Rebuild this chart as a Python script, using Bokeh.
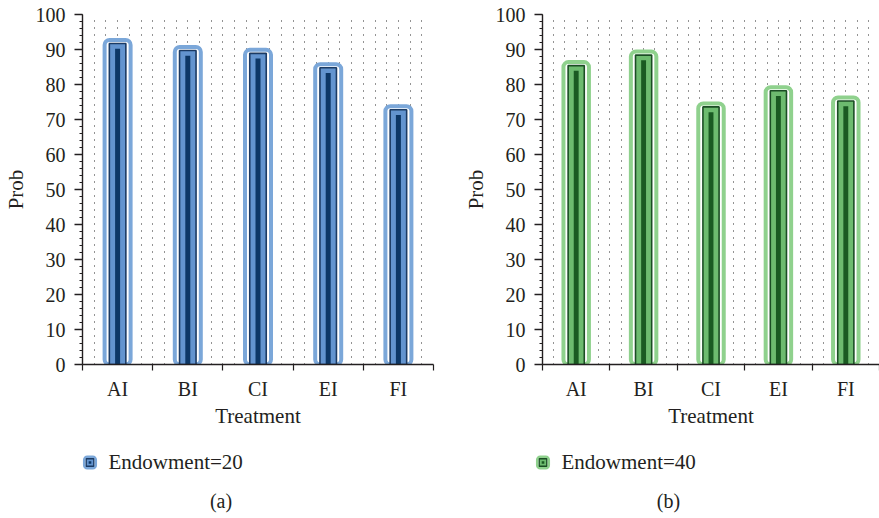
from bokeh.plotting import figure
from bokeh.models import Range1d, FixedTicker, SingleIntervalTicker, ColumnDataSource
from bokeh.layouts import column, row
from bokeh.embed import file_html
from bokeh.resources import INLINE
from bokeh.core.properties import value

# ---- data ----
categories = ["AI", "BI", "CI", "EI", "FI"]
prob_endow20 = [91.7, 89.7, 88.9, 84.8, 72.8]
prob_endow40 = [85.4, 88.4, 73.6, 78.2, 75.3]
legend_labels = ["Endowment=20", "Endowment=40"]
panel_tags = ["(a)", "(b)"]
x_title = "Treatment"
y_title = "Prob"

FONT = "Liberation Serif"
INK = "#231f20"

BLUE = dict(glow="#7ba7d9", edge="#1b3a63", fill="#6394cf", core="#0d3766")
GREEN = dict(glow="#8fd18d", edge="#1b4d24", fill="#6dbb6f", core="#1a5a22")


def make_panel(vals, col, width, mb_left, mb_right):
    p = figure(width=width, height=430,
               x_range=Range1d(0, len(categories)), y_range=Range1d(0, 100),
               output_backend="svg", toolbar_location=None,
               min_border_left=mb_left, min_border_right=mb_right,
               min_border_top=14, min_border_bottom=66)
    p.outline_line_color = None
    frame_w = width - mb_left - mb_right
    band_px = frame_w / len(categories)

    # dotted background grid
    p.ygrid.visible = False
    p.xgrid.ticker = FixedTicker(ticks=[k / 6 for k in range(1, 6 * len(categories) + 1)])
    p.xgrid.grid_line_color = "#2a2a2a"
    p.xgrid.grid_line_dash = "1 6"
    p.xgrid.grid_line_width = 1.1

    xs = [i + 0.5 for i in range(len(categories))]
    src = ColumnDataSource(dict(
        x=xs, top=vals,
        glow_top=[v + 1.0 for v in vals],
        core_top=[v - 1.5 for v in vals],
    ))
    p.vbar(x="x", top="glow_top", bottom=-3, width=26 / band_px, source=src,
           fill_color="white", line_color=col["glow"], line_width=4, border_radius=5)
    p.vbar(x="x", top="top", bottom=-3, width=16.5 / band_px, source=src,
           fill_color=col["fill"], line_color=col["edge"], line_width=1.6)
    p.vbar(x="x", top="core_top", bottom=-3, width=5 / band_px, source=src,
           fill_color=col["core"], line_color=None)

    # x axis: tick marks at band boundaries, labels at centres
    xa = p.xaxis[0]
    xa.ticker = FixedTicker(ticks=xs, minor_ticks=list(range(len(categories) + 1)))
    xa.major_label_overrides = {x: c for x, c in zip(xs, categories)}
    xa.major_tick_out = 0
    xa.major_tick_in = 0
    xa.minor_tick_out = 6
    xa.minor_tick_in = 0
    xa.major_label_standoff = 7
    xa.axis_label = x_title
    xa.axis_label_standoff = 1

    ya = p.yaxis[0]
    ya.ticker = SingleIntervalTicker(interval=10, num_minor_ticks=5)
    ya.major_tick_out = 8
    ya.major_tick_in = 0
    ya.minor_tick_out = 3
    ya.minor_tick_in = 0
    ya.major_label_standoff = 9
    ya.axis_label = y_title
    ya.axis_label_standoff = 5

    for ax in (xa, ya):
        ax.axis_line_color = INK
        ax.axis_line_width = 1.4
        ax.major_tick_line_color = INK
        ax.major_tick_line_width = 1.4
        ax.minor_tick_line_color = INK
        ax.minor_tick_line_width = 1.2
        ax.major_label_text_font = FONT
        ax.major_label_text_font_size = "20px"
        ax.major_label_text_color = INK
        ax.axis_label_text_font = FONT
        ax.axis_label_text_font_size = "21px"
        ax.axis_label_text_font_style = "normal"
        ax.axis_label_text_color = INK
    return p


p1 = make_panel(prob_endow20, BLUE, 460, 82, 27)
p2 = make_panel(prob_endow40, GREEN, 419, 75, 0)

# legend strip (data units == page pixels)
leg = figure(width=879, height=88, x_range=Range1d(0, 879), y_range=Range1d(518, 430),
             output_backend="svg", toolbar_location=None, min_border=0,
             x_axis_location=None, y_axis_location=None)
leg.outline_line_color = None
leg.grid.visible = False

icon_x = [89.5, 542.5]
icon_y = [462, 462]
leg.rect(x=icon_x, y=icon_y, width=11.5, height=11.5, fill_color="white",
         line_color=[BLUE["glow"], GREEN["glow"]], line_width=2.6, border_radius=3)
leg.rect(x=icon_x, y=icon_y, width=7.5, height=7.5,
         fill_color=[BLUE["fill"], GREEN["fill"]],
         line_color=[BLUE["edge"], GREEN["edge"]], line_width=1.3)
leg.rect(x=icon_x, y=icon_y, width=2.6, height=2.6,
         fill_color=[BLUE["core"], GREEN["core"]], line_color=None)
leg.text(x=[108, 561], y=[461, 461], text=legend_labels, text_font=value(FONT),
         text_font_size="21px", text_color=INK, text_baseline="middle", text_align="left")
leg.text(x=[220.5, 668], y=[500, 500], text=panel_tags, text_font=value(FONT),
         text_font_size="20px", text_color=INK, text_baseline="middle", text_align="center")

layout = column(row(p1, p2, spacing=0), leg, spacing=0)
open("out.html", "w").write(file_html(layout, INLINE))
